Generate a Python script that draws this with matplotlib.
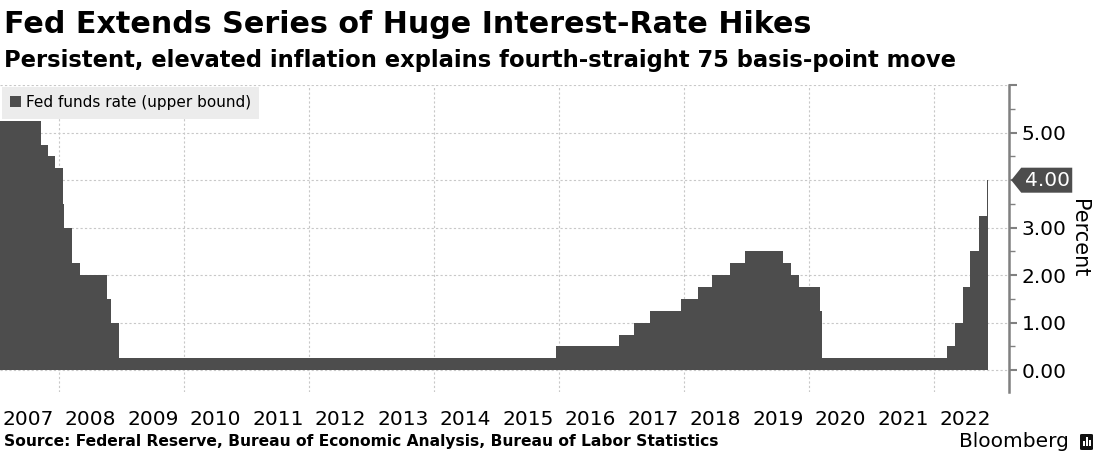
import matplotlib
matplotlib.use("Agg")
import matplotlib.pyplot as plt
from matplotlib.patches import Patch, Polygon, FancyBboxPatch, Rectangle
import numpy as np
import pandas as pd

# Fed funds target rate, upper bound (step changes)
change_dates = [
    "2007-01-01", "2007-09-18", "2007-10-31", "2007-12-11", "2008-01-22",
    "2008-01-30", "2008-03-18", "2008-04-30", "2008-10-08", "2008-10-29",
    "2008-12-16", "2015-12-16", "2016-12-14", "2017-03-15", "2017-06-14",
    "2017-12-13", "2018-03-21", "2018-06-13", "2018-09-26", "2018-12-19",
    "2019-07-31", "2019-09-18", "2019-10-30", "2020-03-03", "2020-03-15",
    "2022-03-16", "2022-05-04", "2022-06-15", "2022-07-27", "2022-09-21",
    "2022-11-02",
]
upper_bound = [
    5.25, 4.75, 4.50, 4.25, 3.50,
    3.00, 2.25, 2.00, 1.50, 1.00,
    0.25, 0.50, 0.75, 1.00, 1.25,
    1.50, 1.75, 2.00, 2.25, 2.50,
    2.25, 2.00, 1.75, 1.25, 0.25,
    0.50, 1.00, 1.75, 2.50, 3.25,
    4.00,
]
last_date = "2022-11-12"
year_labels = list(range(2007, 2023))
y_ticks = [0, 1, 2, 3, 4, 5, 6]
y_tick_labels = ["0.00", "1.00", "2.00", "3.00", "", "5.00", ""]
latest_label = "4.00"

BAR = "#4d4d4d"
GRID = "#c8c8c8"
SPINE = "#808080"

x = pd.to_datetime(change_dates + [last_date])
y = np.array(upper_bound + [upper_bound[-1]])

fig = plt.figure(figsize=(10.97, 4.58), dpi=100)
ax = fig.add_axes([0.0, 0.144, 0.920, 0.670])

ax.fill_between(x, 0, y, step="post", color=BAR, linewidth=0)

ax.set_xlim(pd.Timestamp("2007-01-21"), pd.Timestamp("2023-03-14"))
ax.set_ylim(-0.46, 6.0)

# year labels in the middle of each year, grid lines every two years
ax.set_xticks([pd.Timestamp(f"{yr}-07-02") for yr in year_labels])
ax.set_xticklabels([str(yr) for yr in year_labels], fontsize=14.5)
ax.set_xticks([pd.Timestamp(f"{yr}-01-01") for yr in range(2008, 2023, 2)], minor=True)
ax.tick_params(axis="x", which="both", length=0, pad=13)
ax.grid(True, axis="x", which="minor", color=GRID, linestyle=(0, (2, 2)), linewidth=0.8)

ax.yaxis.tick_right()
ax.yaxis.set_label_position("right")
ax.set_yticks(y_ticks)
ax.set_yticklabels(y_tick_labels, fontsize=14.5)
ax.set_yticks(np.arange(0.5, 6, 1.0), minor=True)
ax.tick_params(axis="y", which="major", length=6, width=1.5, color=SPINE, pad=3)
ax.tick_params(axis="y", which="minor", length=4, width=1.0, color=SPINE)
ax.grid(True, axis="y", which="major", color=GRID, linestyle=(0, (2, 2)), linewidth=0.8)
ax.set_axisbelow(True)
ax.set_ylabel("Percent", fontsize=15, rotation=270, labelpad=16)

for side in ["top", "left", "bottom"]:
    ax.spines[side].set_visible(False)
ax.spines["right"].set_color(SPINE)
ax.spines["right"].set_linewidth(1.8)

leg = ax.legend(
    handles=[Patch(facecolor=BAR, edgecolor="none")],
    labels=["Fed funds rate (upper bound)"],
    loc="upper left", bbox_to_anchor=(0.002, 0.995),
    fontsize=11, frameon=True, fancybox=False,
    handlelength=0.7, handleheight=0.7, handletextpad=0.3,
    borderpad=0.55, borderaxespad=0,
)
leg.get_frame().set_facecolor("#ececec")
leg.get_frame().set_edgecolor("none")
leg.get_frame().set_alpha(1)

# latest value flag on the right axis
fig.canvas.draw()
W, H = fig.bbox.width, fig.bbox.height
px, py = ax.transData.transform((ax.get_xlim()[1], upper_bound[-1]))
tip = px + 2
flag = Polygon(
    [(tip / W, py / H), ((tip + 10) / W, (py + 12.5) / H), ((tip + 61) / W, (py + 12.5) / H),
     ((tip + 61) / W, (py - 12.5) / H), ((tip + 10) / W, (py - 12.5) / H)],
    closed=True, transform=fig.transFigure, facecolor=BAR, edgecolor="none",
)
fig.patches.append(flag)
fig.text((tip + 36) / W, py / H, latest_label, color="white", fontsize=14.5,
         ha="center", va="center")

fig.text(0.004, 0.947, "Fed Extends Series of Huge Interest-Rate Hikes",
         fontsize=21.7, fontweight="bold", va="center", ha="left")
fig.text(0.004, 0.868, "Persistent, elevated inflation explains fourth-straight 75 basis-point move",
         fontsize=16.3, fontweight="bold", va="center", ha="left")
fig.text(0.004, 0.035,
         "Source: Federal Reserve, Bureau of Economic Analysis, Bureau of Labor Statistics",
         fontsize=11.2, fontweight="bold", va="center", ha="left")
fig.text(0.974, 0.035, "Bloomberg", fontsize=14.5, va="center", ha="right")

# small logo mark next to the wordmark
lx, ly, lw = 1080 / W, (H - 450) / H, 13 / W
fig.patches.append(FancyBboxPatch((lx, ly), lw, 16 / H, boxstyle="round,pad=0,rounding_size=0.002",
                                  transform=fig.transFigure, facecolor="#111111", edgecolor="none"))
for i, hgt in enumerate([5, 9, 6]):
    fig.patches.append(Rectangle((lx + (3 + 3 * i) / W, ly + 4 / H), 1.6 / W, hgt / H,
                                 transform=fig.transFigure, facecolor="white", edgecolor="none"))

fig.savefig("out.png", dpi=100)
